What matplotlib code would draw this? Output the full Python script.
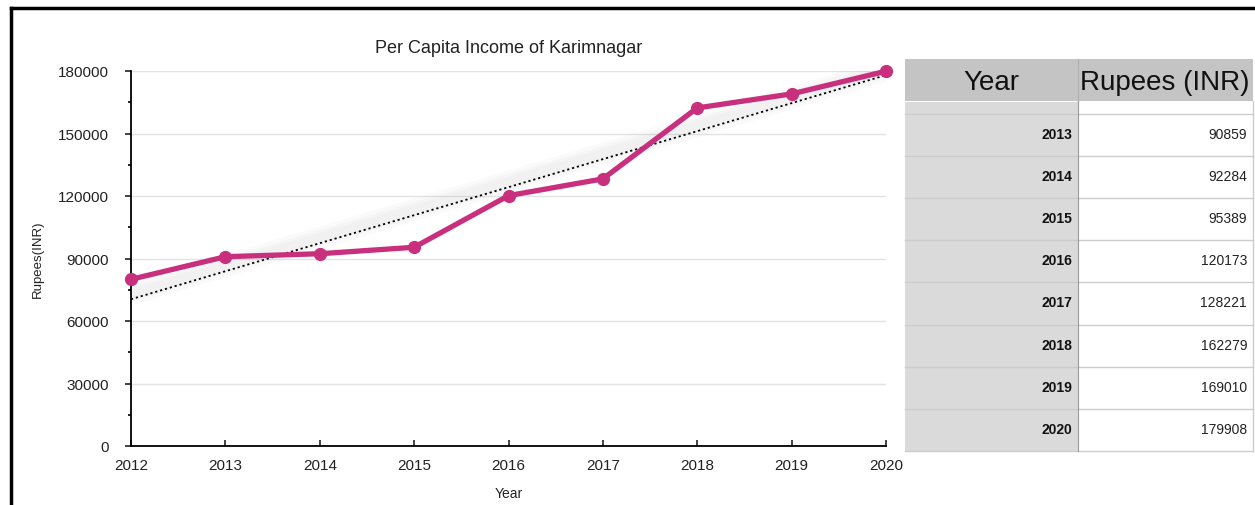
import numpy as np
import matplotlib
matplotlib.use("Agg")
import matplotlib.pyplot as plt
from matplotlib.patches import Rectangle
from matplotlib.lines import Line2D

years = [2012, 2013, 2014, 2015, 2016, 2017, 2018, 2019, 2020]
income = [80000, 90859, 92284, 95389, 120173, 128221, 162279, 169010, 179908]
y_ticks = [0, 30000, 60000, 90000, 120000, 150000, 180000]

LINE_COLOR = "#c8307e"
W, H = 1255, 506

plt.rcParams["font.family"] = ["Liberation Sans", "DejaVu Sans"]

fig = plt.figure(figsize=(W / 100, H / 100), dpi=100)

# outer frame (left and top edges only)
fig.add_artist(Line2D([11 / W, 11 / W], [0, 1 - 9 / H], transform=fig.transFigure,
                      color="black", lw=2.5))
fig.add_artist(Line2D([11 / W, 1], [1 - 9 / H, 1 - 9 / H], transform=fig.transFigure,
                      color="black", lw=2.5))

# ---- line chart ----
ax = fig.add_axes([131 / W, 1 - 447 / H, (886 - 131) / W, (447 - 72) / H])
x = np.array(years)
y = np.array(income)

slope, icpt = np.polyfit(x - x[0], y, 1)
trend = icpt + slope * (x - x[0])

# soft haze around the trend line
for lw in [16, 11, 7]:
    ax.plot(x, trend + 2500, color="#888888", lw=lw, alpha=0.035, solid_capstyle="butt", zorder=1)
ax.plot(x, trend, color="black", lw=1.3, linestyle=(0, (1.2, 1.6)), zorder=2)

ax.plot(x, y, color=LINE_COLOR, lw=3.8, marker="o", markersize=8.5, zorder=3,
        clip_on=False, solid_joinstyle="round")

ax.set_xlim(2012, 2020)
ax.set_ylim(0, 180000)
ax.set_xticks(years)
ax.set_yticks(y_ticks)
ax.set_yticks(np.arange(15000, 180000, 30000), minor=True)
ax.yaxis.grid(True, color="#e3e3e3", lw=1)
ax.set_axisbelow(True)
for s in ["top", "right"]:
    ax.spines[s].set_visible(False)
ax.spines["left"].set_linewidth(1.3)
ax.spines["bottom"].set_linewidth(1.3)
ax.tick_params(axis="y", direction="out", length=4, width=1.2, labelsize=11, pad=12, colors="#222222")
ax.tick_params(axis="y", which="minor", direction="out", length=2, width=1.2)
ax.tick_params(axis="x", direction="in", length=4, width=1.2, labelsize=11, pad=9, colors="#222222")
ax.set_title("Per Capita Income of Karimnagar", fontsize=13, pad=14, color="#222222")
ax.set_xlabel("Year", fontsize=10, labelpad=10, color="#222222")
ax.set_ylabel("Rupees(INR)", fontsize=9.5, labelpad=10, color="#222222")

# ---- data table ----
tx0, tx1, tsplit = 905, 1253, 1078
tab = fig.add_axes([0, 0, 1, 1])
tab.set_xlim(0, W)
tab.set_ylim(H, 0)
tab.axis("off")

head_top, head_bot = 60, 102
strip_bot = 115
row_h = 42.1

tab.add_patch(Rectangle((tx0, head_top), tx1 - tx0, head_bot - head_top,
                        facecolor="#c4c4c4", edgecolor="none"))
tab.plot([tsplit, tsplit], [head_top, head_bot], color="#b0b0b0", lw=0.8)
tab.text((tx0 + tsplit) / 2, (head_top + head_bot) / 2 + 2, "Year", fontsize=20,
         ha="center", va="center", color="#111111")
tab.text(tx1 - 3, (head_top + head_bot) / 2 + 2, "Rupees (INR)", fontsize=20,
         ha="right", va="center", color="#111111")

# the partly scrolled-away first row
tab.add_patch(Rectangle((tx0, head_bot + 1), tsplit - tx0, strip_bot - head_bot - 1,
                        facecolor="#dadada", edgecolor="none"))

rows = list(zip(years[1:], income[1:]))
bottom = strip_bot + row_h * len(rows)
tab.add_patch(Rectangle((tx0, strip_bot), tsplit - tx0, bottom - strip_bot,
                        facecolor="#dadada", edgecolor="none"))
for i, (yr, val) in enumerate(rows):
    top = strip_bot + i * row_h
    tab.plot([tx0, tx1], [top, top], color="#cccccc", lw=1)
    mid = top + row_h / 2 - 1
    tab.text(tsplit - 6, mid, str(yr), fontsize=10, fontweight="bold",
             ha="right", va="center", color="#111111")
    tab.text(tx1 - 6, mid, str(val), fontsize=10, ha="right", va="center", color="#222222")
tab.plot([tx0, tx1], [bottom, bottom], color="#cccccc", lw=1)
tab.plot([tsplit, tsplit], [head_bot, bottom], color="#999999", lw=0.8)
tab.plot([tx1, tx1], [head_bot, bottom], color="#cccccc", lw=1)

fig.savefig("out.png", dpi=100)
